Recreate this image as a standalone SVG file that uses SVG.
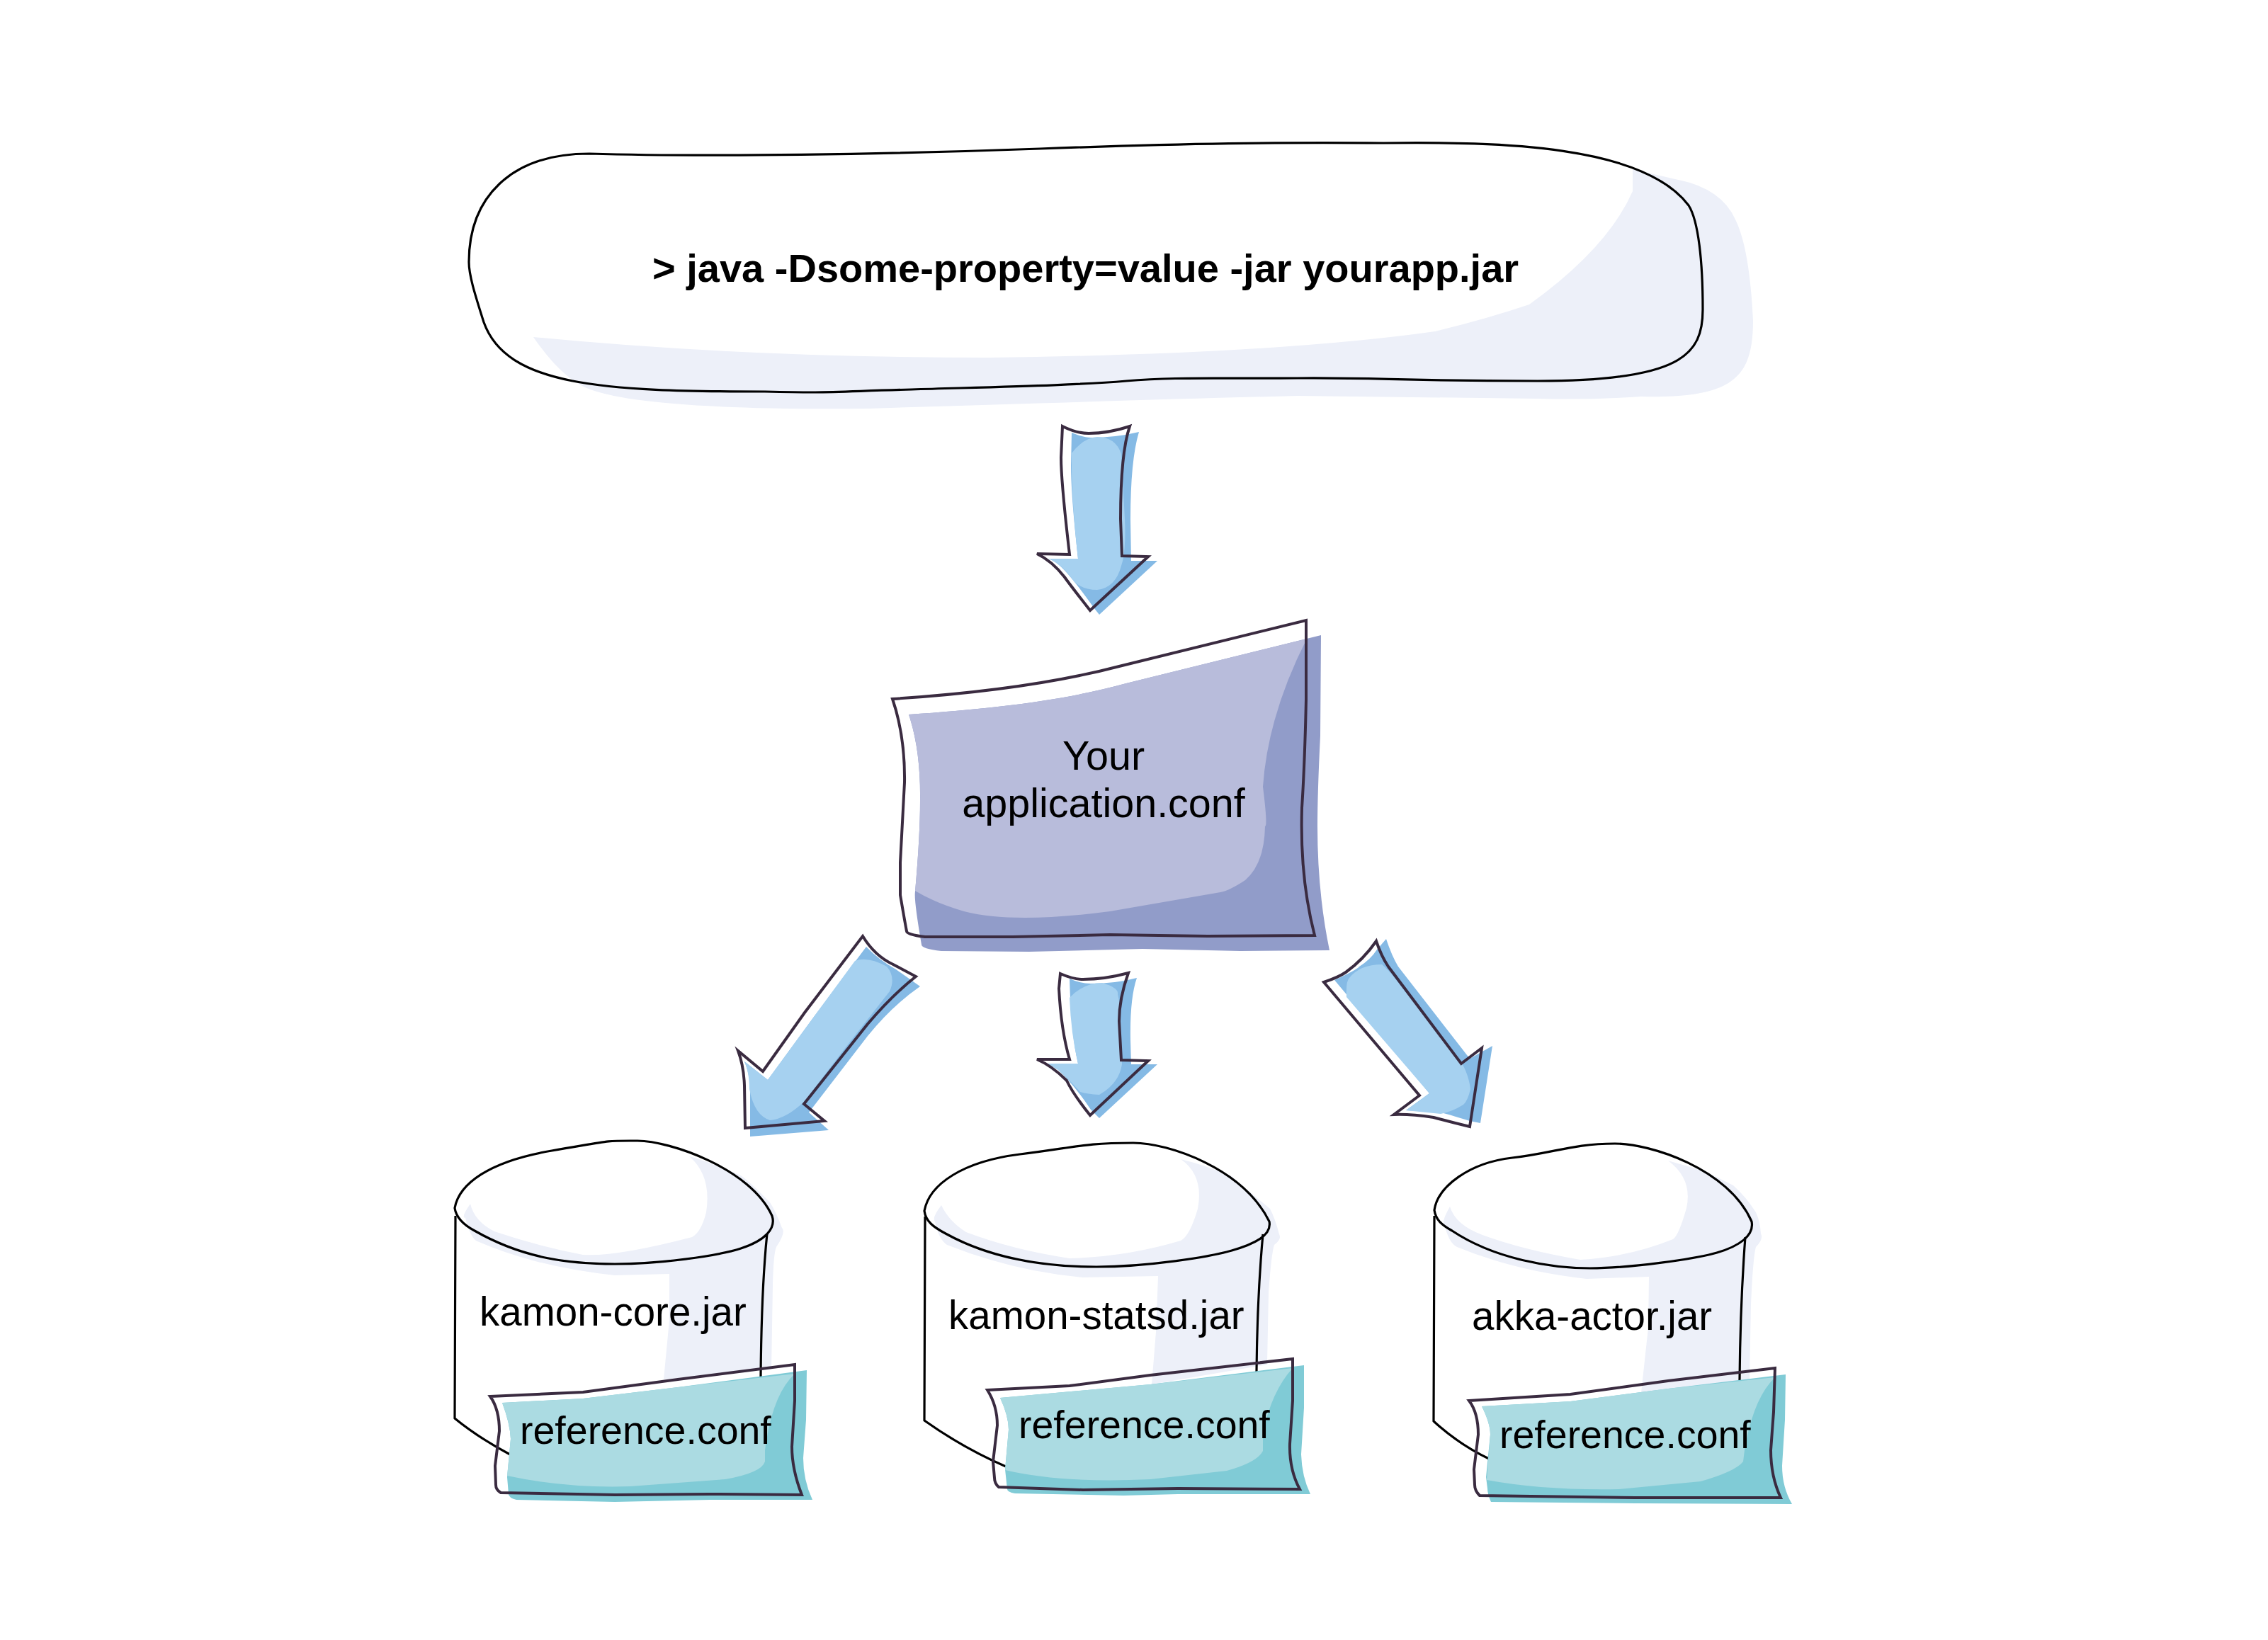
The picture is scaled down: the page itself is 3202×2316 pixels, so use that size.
<svg xmlns="http://www.w3.org/2000/svg" width="3202" height="2316" viewBox="0 0 3202 2316">
<style>
text{font-family:"Liberation Sans",Arial,sans-serif;font-size:56.5px;fill:#000}
.b{font-weight:bold;font-size:56px}
.app{font-size:57.5px}
.ref{font-size:55.5px}
.pale{fill:#edf0f9}
.ink{fill:none;stroke:#000;stroke-width:3.2;stroke-linejoin:round}
.line{fill:none;stroke:#3a2b40;stroke-width:4;stroke-linejoin:miter}
.ad{fill:#85bae5}.al{fill:#a6d1f0}
.td{fill:#80cbd6}.tl{fill:#abdbe2}
</style>
<rect width="3202" height="2316" fill="#fff"/>
<g id="command">
<path class="pale" d="M753 476 Q1050 505 1396 505 Q1800 500 2026 468 Q2100 450 2159 430 Q2270 350 2305 270 L2305 239 L2365 253 Q2430 265 2450 310 Q2470 350 2475 453 C2475 535 2445 563 2317 560 Q2240 565 2171 563 L1832 559 Q1600 565 1226 577 Q900 580 826 547 Q790 530 753 476 Z"/>
<path class="ink" d="M832 217 C1000 222 1250 218 1468 210 S1800 201 1953 202 C2120 200 2320 205 2384 290 C2398 312 2404 370 2404 437 C2404 500 2375 538 2171 538 S1950 533 1832 534 S1660 532 1590 538 S1420 546 1287 550 S1170 555 1080 553 C850 553 715 545 683 455 C672 420 662 390 662 370 C662 280 720 217 832 217 Z"/>
<text class="b" x="921" y="398">&gt; java -Dsome-property=value -jar yourapp.jar</text>
</g>
<g id="application">
<path fill="#919cc9" d="M1283 1009 C1400 1001 1500 990 1590 965 L1865 897 L1864 1039 Q1860 1120 1860 1167 Q1860 1260 1877 1342 L1751 1343 L1613 1340 L1453 1344 L1329 1343 Q1301 1340 1301 1334 Q1290 1270 1292 1259 Q1299 1180 1299 1131 Q1300 1060 1283 1009 Z"/>
<path fill="#b8bcdb" d="M1283 1009 C1400 1001 1500 990 1590 965 L1845 902 Q1790 1010 1783 1111 Q1790 1167 1786 1167 Q1785 1220 1758 1243 Q1735 1258 1723 1260 L1567 1287 Q1430 1305 1361 1287 Q1320 1275 1292 1258 Q1299 1180 1299 1131 Q1300 1060 1283 1009 Z"/>
<path class="line" d="M1260 987 C1400 978 1500 962 1580 941 L1844 876 L1844 988 Q1842 1080 1838 1141 Q1835 1240 1856 1321 L1705 1322 L1567 1320 L1430 1323 L1306 1323 Q1280 1320 1280 1315 Q1278 1305 1271 1264 L1271 1218 L1277 1105 Q1278 1040 1260 987 Z"/>
<text class="app" x="1558" y="1087" text-anchor="middle">Your</text>
<text class="app" x="1558" y="1154" text-anchor="middle">application.conf</text>
</g>
<g id="kamon-core">
<path class="pale" d="M973 1633 Q1005 1660 997 1712 Q990 1740 977 1747 Q870 1775 823 1772 Q760 1760 698 1739 Q670 1725 664 1700 Q650 1720 657 1720 Q665 1750 674 1753 Q760 1790 868 1801 L945 1799 L945 1864 L937 1948 L1089 1934 L1091 1815 Q1092 1770 1096 1761 Q1110 1740 1104 1734 Q1095 1710 1087 1698 Q1060 1670 1046 1660 Q1000 1640 973 1633 Z"/>
<path class="ink" d="M642 1706 C648 1672 690 1640 779 1625 S850 1611 900 1611 C945 1611 1060 1650 1090 1717 C1096 1735 1080 1752 1046 1763 S930 1785 868 1785 S740 1778 670 1738 C655 1730 644 1720 642 1706 Z"/>
<path class="ink" d="M643 1717 L642 2003 Q675 2030 720 2054 M1083 1742 Q1075 1820 1074 1945"/>
<text x="677" y="1872">kamon-core.jar</text>
<path class="td" d="M709 1981 L823 1975 L957 1959 L1139 1935 L1138 2005 L1134 2059 Q1134 2090 1147 2118 L1002 2118 L868 2121 L729 2118 Q718 2115 718 2110 L716 2086 L721 2032 Q720 2010 709 1981 Z"/>
<path class="tl" d="M709 1981 L823 1975 L957 1959 L1122 1940 Q1090 1970 1080 2048 L1080 2064 Q1075 2080 1024 2089 L890 2099 Q800 2102 716 2084 L721 2032 Q720 2010 709 1981 Z"/>
<path class="line" d="M692 1972 L823 1966 L957 1948 L1122 1927 L1122 1978 L1118 2043 Q1118 2075 1132 2111 L1002 2110 L868 2111 L707 2108 Q700 2104 700 2097 L699 2070 L705 2021 Q705 1990 692 1972 Z"/>
<text class="ref" x="734" y="2039">reference.conf</text>
</g>
<g id="kamon-statsd">
<path class="pale" d="M1667 1637 Q1700 1660 1691 1707 Q1680 1745 1667 1752 Q1590 1775 1510 1777 Q1430 1765 1364 1740 Q1340 1725 1329 1702 Q1315 1720 1320 1725 Q1325 1750 1337 1758 Q1430 1795 1529 1804 L1635 1802 L1632 1881 L1626 1955 L1789 1927 L1791 1825 Q1795 1770 1799 1758 Q1810 1750 1806 1743 Q1800 1720 1793 1707 Q1760 1680 1739 1661 Q1700 1645 1667 1637 Z"/>
<path class="ink" d="M1305 1710 C1312 1672 1360 1640 1440 1630 S1530 1614 1600 1614 C1650 1614 1755 1650 1792 1725 C1796 1745 1770 1757 1739 1766 S1620 1789 1548 1789 S1400 1778 1335 1742 C1318 1733 1307 1725 1305 1710 Z"/>
<path class="ink" d="M1306 1718 L1305 2006 Q1360 2045 1420 2071 M1783 1743 Q1775 1830 1774 1937"/>
<text x="1339" y="1877">kamon-statsd.jar</text>
<path class="td" d="M1412 1974 L1624 1955 L1841 1928 L1841 1988 L1837 2054 Q1838 2085 1850 2110 L1663 2110 L1586 2112 L1433 2109 Q1422 2107 1422 2103 L1419 2075 L1424 2019 Q1424 2000 1412 1974 Z"/>
<path class="tl" d="M1412 1974 L1624 1955 L1825 1932 Q1795 1965 1783 2024 L1783 2049 Q1775 2065 1732 2077 L1624 2089 Q1500 2095 1419 2076 L1424 2019 Q1424 2000 1412 1974 Z"/>
<path class="line" d="M1394 1963 L1510 1957 L1624 1942 L1825 1919 L1825 1978 L1821 2039 Q1820 2075 1835 2103 L1663 2102 L1529 2104 L1410 2100 Q1404 2095 1404 2087 L1402 2064 L1408 2013 Q1408 1985 1394 1963 Z"/>
<text class="ref" x="1438" y="2031">reference.conf</text>
</g>
<g id="akka-actor">
<path class="pale" d="M2355 1639 Q2390 1665 2381 1706 Q2370 1745 2362 1750 Q2300 1775 2231 1779 Q2150 1765 2093 1744 Q2055 1730 2047 1704 Q2035 1725 2039 1728 Q2045 1755 2057 1761 Q2140 1795 2240 1806 L2328 1803 L2327 1875 L2317 1967 L2470 1948 L2472 1842 Q2475 1775 2479 1761 Q2490 1750 2486 1742 Q2485 1725 2479 1712 Q2465 1690 2447 1674 Q2420 1660 2401 1652 Q2375 1645 2355 1639 Z"/>
<path class="ink" d="M2025 1709 C2030 1675 2075 1642 2135 1635 S2220 1615 2280 1615 C2330 1615 2440 1650 2473 1725 C2477 1745 2455 1760 2424 1769 S2300 1791 2245 1791 S2110 1778 2050 1738 C2035 1730 2027 1722 2025 1709 Z"/>
<path class="ink" d="M2025 1717 L2024 2007 Q2060 2040 2102 2060 M2464 1747 Q2457 1840 2456 1949"/>
<text x="2078" y="1878">akka-actor.jar</text>
<path class="td" d="M2092 1986 L2217 1979 L2355 1961 L2521 1941 L2520 2005 L2516 2070 Q2516 2100 2530 2124 L2309 2123 L2105 2121 Q2100 2110 2100 2102 L2098 2086 L2104 2026 Q2104 2010 2092 1986 Z"/>
<path class="tl" d="M2092 1986 L2217 1979 L2355 1961 L2506 1945 Q2475 1975 2463 2048 L2461 2064 Q2450 2078 2401 2092 L2286 2103 Q2180 2105 2099 2090 L2104 2026 Q2104 2010 2092 1986 Z"/>
<path class="line" d="M2074 1978 L2217 1969 L2355 1950 L2506 1932 L2504 1994 L2500 2048 Q2500 2085 2514 2115 L2309 2115 L2089 2112 Q2082 2105 2082 2097 L2081 2075 L2087 2026 Q2087 1995 2074 1978 Z"/>
<text class="ref" x="2117" y="2045">reference.conf</text>
</g>
<g id="connectors">
<g id="arrow-top">
<path class="ad" d="M1513 611 Q1530 618 1540 618 Q1575 618 1608 610 Q1596 650 1596 733 L1597 792 L1634 792 L1552 868 L1544 858 Q1510 810 1494 797 Q1485 790 1480 789 L1522 789 Q1512 700 1512 657 Z"/>
<path class="al" d="M1513 640 Q1530 618 1549 617 Q1575 617 1583 641 L1588 733 Q1590 780 1583 799 Q1575 830 1549 833 Q1530 833 1517 822 Q1505 805 1494 797 Q1485 790 1480 789 L1522 789 Q1512 700 1513 640 Z"/>
<path class="line" d="M1500 602 Q1520 612 1537 612 Q1565 612 1595 602 Q1582 640 1582 733 L1584 785 L1621 786 L1539 862 Q1510 825 1503 815 Q1485 792 1464 782 L1510 783 Q1498 680 1498 646 Z"/>
</g>
<g id="arrow-left">
<path class="ad" d="M1223 1337 Q1240 1355 1265 1369 L1299 1393 Q1260 1420 1225 1463 L1142 1571 L1170 1596 L1059 1605 L1059 1538 Q1058 1515 1051 1499 L1084 1525 L1149 1436 Z"/>
<path class="al" d="M1207 1357 Q1225 1350 1252 1365 Q1265 1380 1256 1400 L1194 1479 L1136 1555 Q1110 1580 1087 1582 Q1065 1575 1058 1538 Q1058 1515 1051 1499 L1084 1525 L1149 1436 Z"/>
<path class="line" d="M1218 1322 Q1235 1350 1261 1362 L1293 1379 Q1260 1405 1225 1446 L1135 1559 L1164 1583 L1052 1593 L1051 1533 Q1050 1505 1042 1484 L1077 1513 L1136 1430 Z"/>
</g>
<g id="arrow-center">
<path class="ad" d="M1510 1382 Q1525 1389 1540 1389 Q1575 1389 1605 1381 Q1595 1410 1596 1468 L1597 1503 L1634 1503 L1552 1579 L1540 1567 Q1515 1530 1494 1511 Q1485 1505 1477 1502 L1522 1502 Q1512 1460 1510 1382 Z"/>
<path class="al" d="M1510 1409 Q1530 1388 1556 1388 Q1580 1395 1578 1404 Q1582 1420 1582 1442 L1584 1503 Q1580 1530 1552 1546 Q1535 1545 1525 1542 Q1510 1525 1494 1511 Q1485 1505 1477 1502 L1522 1502 Q1512 1460 1510 1409 Z"/>
<path class="line" d="M1497 1375 Q1515 1383 1529 1383 Q1560 1383 1593 1374 Q1580 1410 1580 1442 L1583 1497 L1621 1498 L1539 1575 Q1515 1545 1506 1526 Q1485 1505 1464 1496 L1510 1496 Q1498 1455 1495 1396 Z"/>
</g>
<g id="arrow-right">
<path class="ad" d="M1957 1326 Q1965 1350 1974 1365 L2075 1495 L2107 1477 L2090 1586 L2075 1583 Q2040 1572 2034 1571 L1985 1568 L2018 1544 L1884 1384 Q1915 1370 1919 1365 Q1935 1355 1944 1341 Z"/>
<path class="al" d="M1901 1408 Q1900 1385 1905 1381 Q1920 1362 1951 1362 Q1960 1370 1965 1376 L2047 1479 Q2072 1505 2076 1538 Q2072 1555 2066 1560 Q2050 1570 2034 1573 L1985 1568 L2018 1544 Z"/>
<path class="line" d="M1943 1329 Q1950 1350 1960 1365 L2063 1502 L2092 1480 L2075 1591 Q2050 1585 2024 1578 Q1990 1573 1968 1574 L2004 1547 L1869 1387 Q1890 1380 1900 1373 Q1925 1355 1943 1329 Z"/>
</g>
</g>
</svg>
